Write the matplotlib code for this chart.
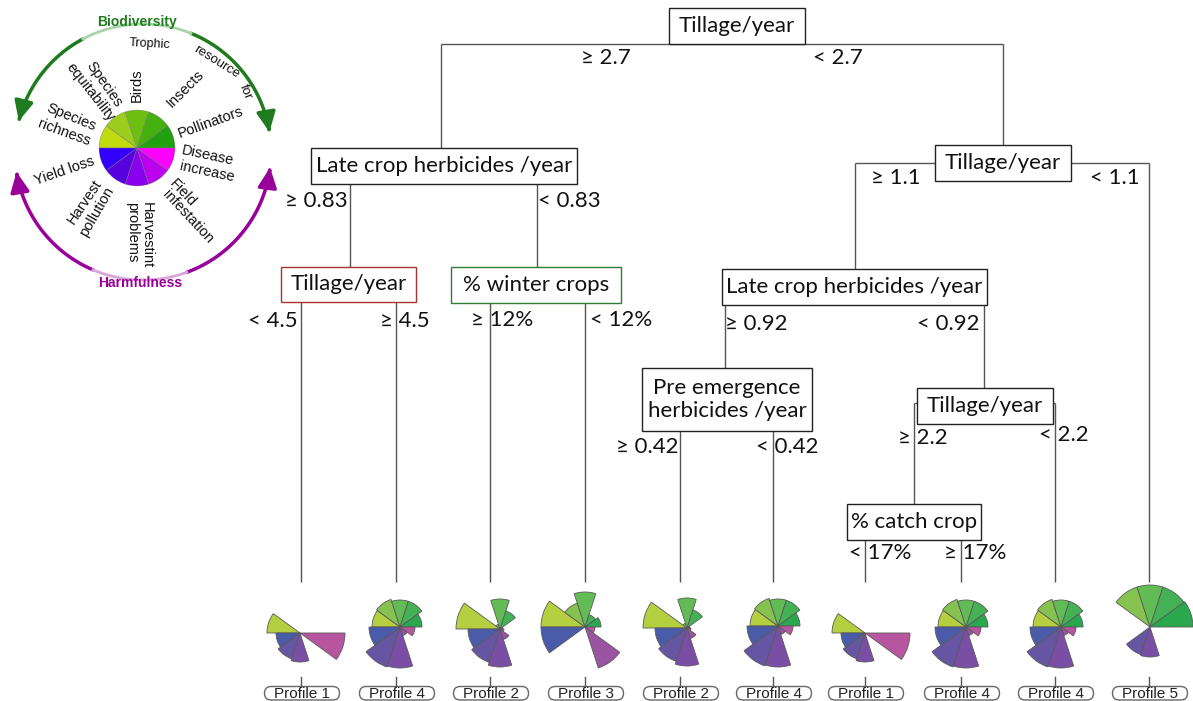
import numpy as np
import matplotlib
matplotlib.use('Agg')
import matplotlib.pyplot as plt
from matplotlib.patches import Rectangle, FancyBboxPatch, FancyArrowPatch
from matplotlib.path import Path

# ---------------- data ----------------
sectors = ["Species richness", "Species equitability", "Birds", "Insects", "Pollinators",
           "Disease increase", "Field infestation", "Harvestint problems", "Harvest pollution", "Yield loss"]
profile1 = [33, 0, 0, 0, 0, 45, 0, 29, 27, 24]
profile2 = [44, 5, 30, 19, 3, 4, 11, 38, 35, 32]
profile3 = [44, 25, 35, 13, 16, 10, 43, 0, 0, 44]
profile4 = [28, 29, 27, 27, 22, 15, 9, 41, 42, 31]
profile5 = [0, 42, 42, 42, 43, 0, 0, 30, 29, 0]
profiles = {"Profile 1": profile1, "Profile 2": profile2, "Profile 3": profile3,
            "Profile 4": profile4, "Profile 5": profile5}
leaf_profiles = ["Profile 1", "Profile 4", "Profile 2", "Profile 3", "Profile 2",
                 "Profile 4", "Profile 1", "Profile 4", "Profile 4", "Profile 5"]

node_texts = ["Tillage/year", "Late crop herbicides /year", "Tillage/year", "% winter crops",
              "Tillage/year", "Late crop herbicides /year", "Pre emergence\nherbicides /year",
              "Tillage/year", "% catch crop"]
split_labels = ["≥ 2.7", "< 2.7", "≥ 0.83", "< 0.83", "< 4.5", "≥ 4.5", "≥ 12%", "< 12%",
                "≥ 1.1", "< 1.1", "≥ 0.92", "< 0.92", "≥ 0.42", "< 0.42", "≥ 2.2", "< 2.2",
                "< 17%", "≥ 17%"]

flower_colors = ['#b4cf40', '#86c250', '#62bb54', '#44b155', '#2aa84e',
                 '#b8559f', '#9a54a2', '#7b4ea6', '#6555a3', '#4a5ba9']
legend_colors = ['#c0dc10', '#9ccc1c', '#6cbf10', '#45b010', '#22a010',
                 '#ff00ff', '#bb00ee', '#8800ee', '#5500dd', '#3300ff']

# ---------------- layout ----------------
W, H = 1193, 701
fig = plt.figure(figsize=(W / 100, H / 100), dpi=100)
ax = fig.add_axes([0, 0, 1, 1])
ax.set_xlim(0, W)
ax.set_ylim(H, 0)
ax.axis('off')

TREE_FONT = ['Lato', 'DejaVu Sans']
LINE_C = '#555555'

segs = [
    (441, 44, 1003, 44), (441, 44, 441, 148), (1003, 44, 1003, 145),
    (350, 184, 350, 267), (537, 184, 537, 267),
    (301, 302, 301, 582), (396, 302, 396, 582),
    (490, 303, 490, 582), (585, 303, 585, 582),
    (855, 163, 935, 163), (855, 163, 855, 269),
    (1071, 163, 1149, 163), (1149, 163, 1149, 582),
    (725, 305, 725, 368), (984, 305, 984, 388),
    (680, 431, 680, 582), (773, 431, 773, 582),
    (914, 403, 917, 403), (914, 403, 914, 504),
    (1053, 403, 1055, 403), (1055, 403, 1055, 582),
    (865, 540, 865, 582), (961, 540, 961, 582),
]
for x0, y0, x1, y1 in segs:
    ax.plot([x0, x1], [y0, y1], color=LINE_C, lw=1.0, solid_capstyle='butt', zorder=1)

box_geom = [(669, 8, 805, 44, '#222222'), (311, 148, 577, 184, '#222222'),
            (281, 267, 416, 302, '#a83232'), (451, 267, 621, 303, '#2e7d32'),
            (935, 145, 1071, 181, '#222222'), (722, 269, 987, 305, '#222222'),
            (642, 368, 812, 431, '#222222'), (917, 388, 1053, 424, '#222222'),
            (847, 504, 981, 540, '#222222')]
for (x0, y0, x1, y1, ec), txt in zip(box_geom, node_texts):
    ax.add_patch(Rectangle((x0, y0), x1 - x0, y1 - y0, facecolor='white', edgecolor=ec, lw=1.0, zorder=2))
    ax.text((x0 + x1) / 2, (y0 + y1) / 2, txt, ha='center', va='center', fontsize=16,
            family=TREE_FONT, color='#111111', zorder=3, linespacing=1.15)

label_pos = [(606, 58), (838, 58), (316, 201), (569, 201), (273, 321), (405, 321),
             (502, 320), (621, 320), (896, 178), (1115, 178), (756, 324), (948, 324),
             (647, 447), (787, 447), (923, 438), (1064, 435), (880, 553), (975, 553)]
for txt, (x, y) in zip(split_labels, label_pos):
    ax.text(x, y, txt, ha='center', va='center', fontsize=16, family=TREE_FONT,
            color='#111111', zorder=3)

# ---------------- flowers ----------------
leaf_x = [301, 396, 490, 585, 680, 773, 865, 961, 1055, 1149]
flower_center = [(300, 633), (400, 627), (500, 629), (585, 627), (687, 628),
                 (778, 626), (865, 633), (966, 627), (1061, 627), (1150, 627)]


def polar_flower(cx, cy, radii, colors, R=50, ec='#5a5a5a', lw=0.6):
    pax = fig.add_axes([(cx - R) / W, 1 - (cy + R) / H, 2 * R / W, 2 * R / H], projection='polar')
    theta = np.deg2rad(162 - 36 * np.arange(len(radii)))
    radii = np.asarray(radii, dtype=float)
    keep = radii > 0
    pax.bar(theta[keep], radii[keep], width=np.deg2rad(36), bottom=0,
            color=np.array(colors)[keep], edgecolor=ec, linewidth=lw, align='center')
    pax.set_ylim(0, R)
    pax.set_axis_off()
    return pax


for name, (cx, cy) in zip(leaf_profiles, flower_center):
    polar_flower(cx, cy, profiles[name], flower_colors)

for name, x in zip(leaf_profiles, leaf_x):
    ax.plot([x, x], [677, 686], color=LINE_C, lw=1.0)
    ax.add_patch(FancyBboxPatch((x + 1 - 37.5, 686.5), 75, 13.5,
                                boxstyle='round,pad=0,rounding_size=6.7',
                                facecolor='white', edgecolor='#666666', lw=1.0))
    ax.text(x + 1, 693.5, name, ha='center', va='center', fontsize=11,
            family=['Liberation Sans', 'DejaVu Sans'], color='#222222')

# ---------------- legend ----------------
polar_flower(137, 148, [38] * 10, legend_colors, R=38.5, ec='#777777', lw=0.3)

cxl, cyl, rl = 143, 152, 128


def arc_pts(a0, a1, n=60):
    a = np.deg2rad(np.linspace(a0, a1, n))
    return np.column_stack([cxl + rl * np.cos(a), cyl - rl * np.sin(a)])


GREEN = '#1e7b1e'
PURPLE = '#990099'
for a0, a1, col in [(118, 166, GREEN), (68, 9, GREEN), (247, 189, PURPLE), (290, 353, PURPLE)]:
    p = FancyArrowPatch(path=Path(arc_pts(a0, a1)), arrowstyle='-|>,head_length=0.8,head_width=0.38',
                        mutation_scale=15, color=col, lw=2.5)
    ax.add_patch(p)
for a0, a1, col in [(68, 118, '#a9d4a9'), (247, 290, '#d9a6d9')]:
    pts = arc_pts(a0, a1)
    ax.plot(pts[:, 0], pts[:, 1], color=col, lw=2.0)

LEG_FONT = ['Liberation Sans', 'DejaVu Sans']
ax.text(137, 22, "Biodiversity", ha='center', va='center', fontsize=10, fontweight='bold',
        color=GREEN, family=LEG_FONT)
ax.text(140, 283, "Harmfulness", ha='center', va='center', fontsize=10, fontweight='bold',
        color=PURPLE, family=LEG_FONT)

legend_words = [("Trophic", 150, 44, -3, 9), ("resource", 216, 62, -32, 9.5), ("for", 246, 92, -68, 9.5),
                ("Species", 104, 84, -55, 10.5), ("equitability", 90, 92, -52, 10.5),
                ("Birds", 137, 85, 90, 10.5), ("Insects", 185, 89, 45, 10.5),
                ("Pollinators", 211, 122, 20, 10.5),
                ("Species", 71, 117, -22, 10.5), ("richness", 64, 133, -20, 10.5),
                ("Disease", 208, 156, -12, 10.5), ("increase", 207, 172, -12, 10.5),
                ("Field", 183, 193, -47, 10.5), ("infestation", 188, 217, -47, 10.5),
                ("Harvestint", 147, 235, -90, 10.5), ("problems", 132, 232, -90, 10.5),
                ("Harvest", 85, 202, 56, 10.5), ("pollution", 97, 212, 60, 10.5),
                ("Yield loss", 64, 171, 19, 10.5)]
for txt, x, y, rot, fs in legend_words:
    ax.text(x, y, txt, ha='center', va='center', rotation=rot, rotation_mode='anchor',
            fontsize=fs, family=LEG_FONT, color='#111111')

fig.savefig('out.png', dpi=100)
